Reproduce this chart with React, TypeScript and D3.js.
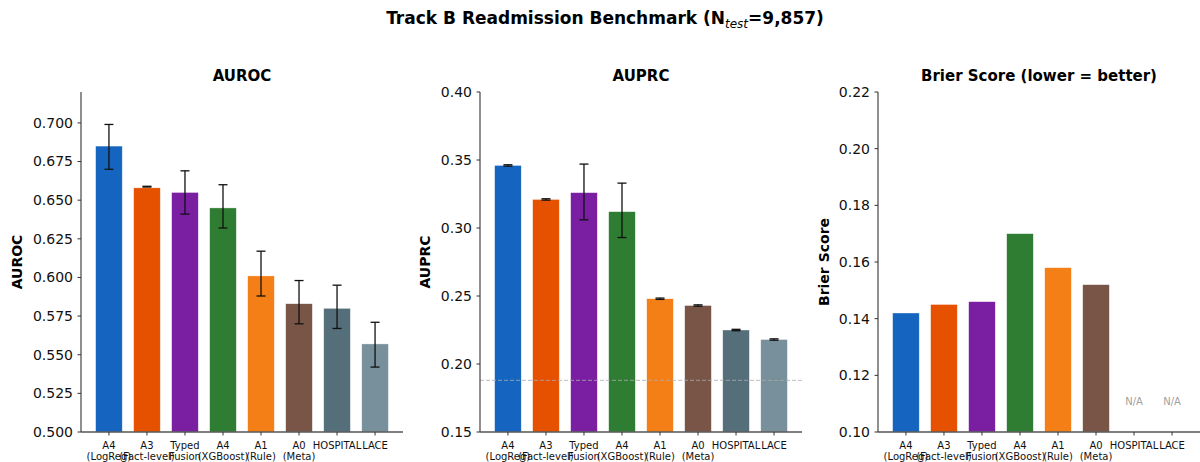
import React from "react";
import * as d3 from "d3";

const categories = ["A4\n(LogReg)", "A3\n(Fact-level)", "Typed\nFusion", "A4\n(XGBoost)", "A1\n(Rule)", "A0\n(Meta)", "HOSPITAL", "LACE"];
const colors = ["#1565C0", "#E65100", "#7B1FA2", "#2E7D32", "#F57F17", "#795548", "#546E7A", "#78909C"];

const aurocValues = [0.685, 0.658, 0.655, 0.645, 0.601, 0.583, 0.580, 0.557];
const aurocLower = [0.670, 0.6585, 0.641, 0.632, 0.588, 0.570, 0.567, 0.542];
const aurocUpper = [0.699, 0.659, 0.669, 0.660, 0.617, 0.598, 0.595, 0.571];

const auprcValues = [0.346, 0.321, 0.326, 0.312, 0.248, 0.243, 0.225, 0.218];
const auprcLower = [0.3455, 0.3205, 0.306, 0.293, 0.2475, 0.2425, 0.2245, 0.2175];
const auprcUpper = [0.3465, 0.3215, 0.347, 0.333, 0.2485, 0.2435, 0.2255, 0.2185];
const auprcBaseline = 0.188;

const brierValues: (number | null)[] = [0.142, 0.145, 0.146, 0.170, 0.158, 0.152, null, null];

const aurocTicks = [0.5, 0.525, 0.55, 0.575, 0.6, 0.625, 0.65, 0.675, 0.7];
const auprcTicks = [0.15, 0.2, 0.25, 0.3, 0.35, 0.4];
const brierTicks = [0.1, 0.12, 0.14, 0.16, 0.18, 0.2, 0.22];

const FONT = "DejaVu Sans, sans-serif";
const TOP = 92;
const BOTTOM = 432;

type PanelProps = {
  left: number;
  right: number;
  title: string;
  ylabel: string;
  ylabelX: number;
  domain: [number, number];
  ticks: number[];
  fmt: string;
  values: (number | null)[];
  lower?: number[];
  upper?: number[];
  baseline?: number;
};

function Panel(p: PanelProps) {
  const n = categories.length;
  const x = d3.scaleLinear().domain([-0.735, n - 1 + 0.735]).range([p.left, p.right]);
  const y = d3.scaleLinear().domain(p.domain).range([BOTTOM, TOP]);
  const bw = x(0.7) - x(0);
  const f = d3.format(p.fmt);
  const cx = (p.left + p.right) / 2;
  return (
    <g>
      <text x={cx} y={81} textAnchor="middle" fontFamily={FONT} fontWeight="bold" fontSize={15} fill="#000">{p.title}</text>
      {p.values.map((v, i) =>
        v === null ? (
          <text key={i} x={x(i)} y={y(p.domain[0] + 0.0095)} textAnchor="middle" fontFamily={FONT} fontSize={10} fill="#a0a0a0">N/A</text>
        ) : (
          <rect key={i} x={x(i) - bw / 2} y={y(v)} width={bw} height={y(p.domain[0]) - y(v)} fill={colors[i]} stroke="#fff" strokeOpacity={0.6} strokeWidth={0.6} />
        )
      )}
      {p.lower && p.upper && p.values.map((v, i) => {
        if (v === null) return null;
        const lo = y(p.lower![i]);
        const hi = y(p.upper![i]);
        const xc = x(i);
        return (
          <g key={"e" + i} stroke="#111" strokeWidth={1.3}>
            <line x1={xc} x2={xc} y1={lo} y2={hi} />
            <line x1={xc - 4.5} x2={xc + 4.5} y1={lo} y2={lo} />
            <line x1={xc - 4.5} x2={xc + 4.5} y1={hi} y2={hi} />
          </g>
        );
      })}
      {p.baseline !== undefined && (
        <line x1={p.left} x2={p.right} y1={y(p.baseline)} y2={y(p.baseline)} stroke="#aaaaaa" strokeOpacity={0.8} strokeWidth={1} strokeDasharray="4,2" />
      )}
      <line x1={p.left} x2={p.left} y1={TOP} y2={BOTTOM} stroke="#333" strokeWidth={1.1} />
      <line x1={p.left} x2={p.right} y1={BOTTOM} y2={BOTTOM} stroke="#555" strokeWidth={1.5} />
      {p.ticks.map((t, i) => (
        <g key={"t" + i}>
          <line x1={p.left - 3.5} x2={p.left} y1={y(t)} y2={y(t)} stroke="#333" strokeWidth={1} />
          <text x={p.left - 8} y={y(t)} dy="0.35em" textAnchor="end" fontFamily={FONT} fontSize={14} fill="#111">{f(t)}</text>
        </g>
      ))}
      {categories.map((c, i) => {
        const lines = c.split("\n");
        return (
          <g key={"c" + i}>
            <line x1={x(i)} x2={x(i)} y1={BOTTOM} y2={BOTTOM + 3.5} stroke="#333" strokeWidth={1} />
            {lines.map((l, j) => (
              <text key={j} x={x(i)} y={449 + j * 11} textAnchor="middle" fontFamily={FONT} fontSize={10} fill="#111">{l}</text>
            ))}
          </g>
        );
      })}
      <text transform={`translate(${p.ylabelX},${(TOP + BOTTOM) / 2}) rotate(-90)`} textAnchor="middle" dy="0.35em" fontFamily={FONT} fontWeight="bold" fontSize={14} fill="#000">{p.ylabel}</text>
    </g>
  );
}

export default function App() {
  return (
    <svg width={1200} height={462} style={{ position: "absolute", left: 0, top: 0, background: "#fff" }}>
      <rect width={1200} height={462} fill="#fff" />
      <text x={605} y={24} textAnchor="middle" fontFamily={FONT} fontWeight="bold" fontSize={17} fill="#000">
        Track B Readmission Benchmark (N
        <tspan fontStyle="italic" fontWeight="normal" fontSize={12} dy={4}>test</tspan>
        <tspan dy={-4}>=9,857)</tspan>
      </text>
      <Panel left={81} right={403} title="AUROC" ylabel="AUROC" ylabelX={17} domain={[0.5, 0.72]} ticks={aurocTicks} fmt=".3f" values={aurocValues} lower={aurocLower} upper={aurocUpper} />
      <Panel left={480} right={802} title="AUPRC" ylabel="AUPRC" ylabelX={425} domain={[0.15, 0.4]} ticks={auprcTicks} fmt=".2f" values={auprcValues} lower={auprcLower} upper={auprcUpper} baseline={auprcBaseline} />
      <Panel left={878} right={1200} title="Brier Score (lower = better)" ylabel="Brier Score" ylabelX={824} domain={[0.1, 0.22]} ticks={brierTicks} fmt=".2f" values={brierValues} />
    </svg>
  );
}
